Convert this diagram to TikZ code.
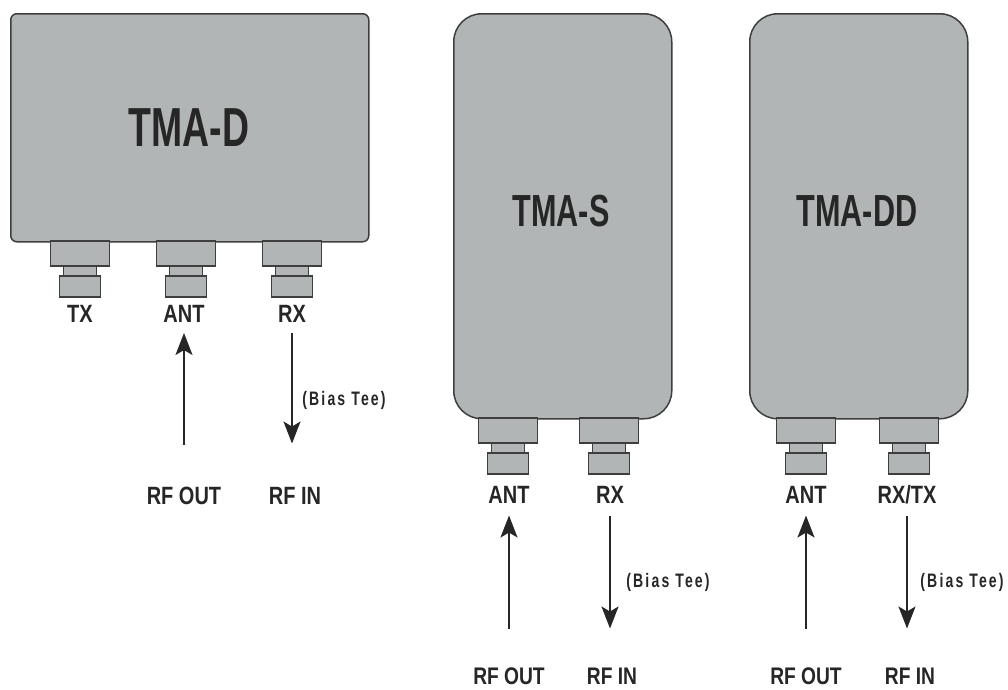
\documentclass[tikz,border=0pt]{standalone}
\usepackage{fontspec}
\setmainfont[FakeStretch=0.8]{Liberation Sans}
\newfontfamily\titlefont[FakeStretch=0.68]{Liberation Sans}
\newfontfamily\biasfont[FakeStretch=0.72,LetterSpace=11]{Liberation Sans}
\usetikzlibrary{arrows.meta}
\definecolor{bodygray}{RGB}{178,181,181}
\definecolor{edgegray}{RGB}{62,62,62}
\definecolor{inkgray}{RGB}{38,38,38}
\tikzset{
  x=1pt,y=-1pt,
  case/.style={draw=edgegray,fill=bodygray,line width=1.5pt,inner sep=0pt,anchor=north west},
  part/.style={draw=edgegray,fill=bodygray,line width=1.5pt,inner sep=0pt,outer sep=0pt,anchor=north},
  bigpart/.style={part,minimum width=59pt,minimum height=25pt},
  neckpart/.style={part,minimum width=33pt,minimum height=10pt},
  capart/.style={part,minimum width=41pt,minimum height=21pt},
  txt/.style={inner sep=0pt,outer sep=0pt,text=inkgray,font=\bfseries\fontsize{25}{25}\selectfont,text height=18pt,text depth=0pt},
  bottomtxt/.style={txt,font=\bfseries\fontsize{24}{24}\selectfont},
  small/.style={txt,font=\biasfont\bfseries\fontsize{19.5}{20}\selectfont,text height=14pt,text depth=4pt},
  ttl/.style={inner sep=0pt,text=inkgray},
  flow/.style={draw=inkgray,line width=1.9pt,-{Stealth[length=22pt,width=17pt,inset=5pt]}},
}
% #1 name prefix, #2 centre x, #3 top y
\newcommand{\portstack}[3]{%
  \node[neckpart] (#1n) at (#2,#3+25) {};
  \node[capart] (#1c) at (#2,#3+35) {};
  \node[bigpart] (#1b) at (#2,#3) {};
}
\begin{document}
\begin{tikzpicture}
\useasboundingbox (0,0) rectangle (1008,689);
% TMA-D
\node[case,rounded corners=6pt,minimum width=358pt,minimum height=228pt] (d) at (10,13) {};
\node[ttl,font=\titlefont\bfseries\fontsize{55}{55}\selectfont] (dt) at (189,128) {TMA-D};
\portstack{dtx}{80}{241}
\portstack{dant}{186}{241}
\portstack{drx}{292}{241}
\node[txt] (dtxl) at (80,313) {TX};
\node[txt] (dantl) at (184,313) {ANT};
\node[txt] (drxl) at (292,313) {RX};
\node[txt] (dout) at (184,495) {RF OUT};
\node[txt] (din) at (295,495) {RF IN};
\node[small] (dbias) at (344,400) {(Bias Tee)};
\draw[flow,shorten <=41.5pt,shorten >=11pt] (dout.north) -- (dantl.south);
\draw[flow,shorten <=10.5pt,shorten >=42.5pt] (drxl.south) -- (drxl.south |- din.north);
% TMA-S
\node[case,rounded corners=28pt,minimum width=218pt,minimum height=405pt] (s) at (453,13) {};
\node[ttl,font=\titlefont\bfseries\fontsize{45}{45}\selectfont] (st) at (561,211) {TMA-S};
\portstack{sant}{508}{418}
\portstack{srx}{609}{418}
\node[txt] (santl) at (509,494) {ANT};
\node[txt] (srxl) at (610,494) {RX};
\node[bottomtxt] (sout) at (509,675) {RF OUT};
\node[bottomtxt] (sin) at (612,675) {RF IN};
\node[small] (sbias) at (668,582) {(Bias Tee)};
\draw[flow,shorten <=37.5pt,shorten >=12.5pt] (sout.north) -- (santl.south);
\draw[flow,shorten <=12.5pt,shorten >=37.5pt] (srxl.south) -- (srxl.south |- sin.north);
% TMA-DD
\node[case,rounded corners=28pt,minimum width=218pt,minimum height=405pt] (t) at (749,13) {};
\node[ttl,font=\titlefont\bfseries\fontsize{45}{45}\selectfont] (tt) at (857,211) {TMA-DD};
\portstack{tant}{806}{418}
\portstack{trx}{909}{418}
\node[txt] (tantl) at (806,494) {ANT};
\node[txt] (trxl) at (907,494) {RX/TX};
\node[bottomtxt] (tout) at (806,675) {RF OUT};
\node[bottomtxt] (tin) at (910,675) {RF IN};
\node[small] (tbias) at (962,582) {(Bias Tee)};
\draw[flow,shorten <=37.5pt,shorten >=12.5pt] (tout.north) -- (tantl.south);
\draw[flow,shorten <=12.5pt,shorten >=37.5pt] (trxl.south) -- (trxl.south |- tin.north);
\end{tikzpicture}
\end{document}
